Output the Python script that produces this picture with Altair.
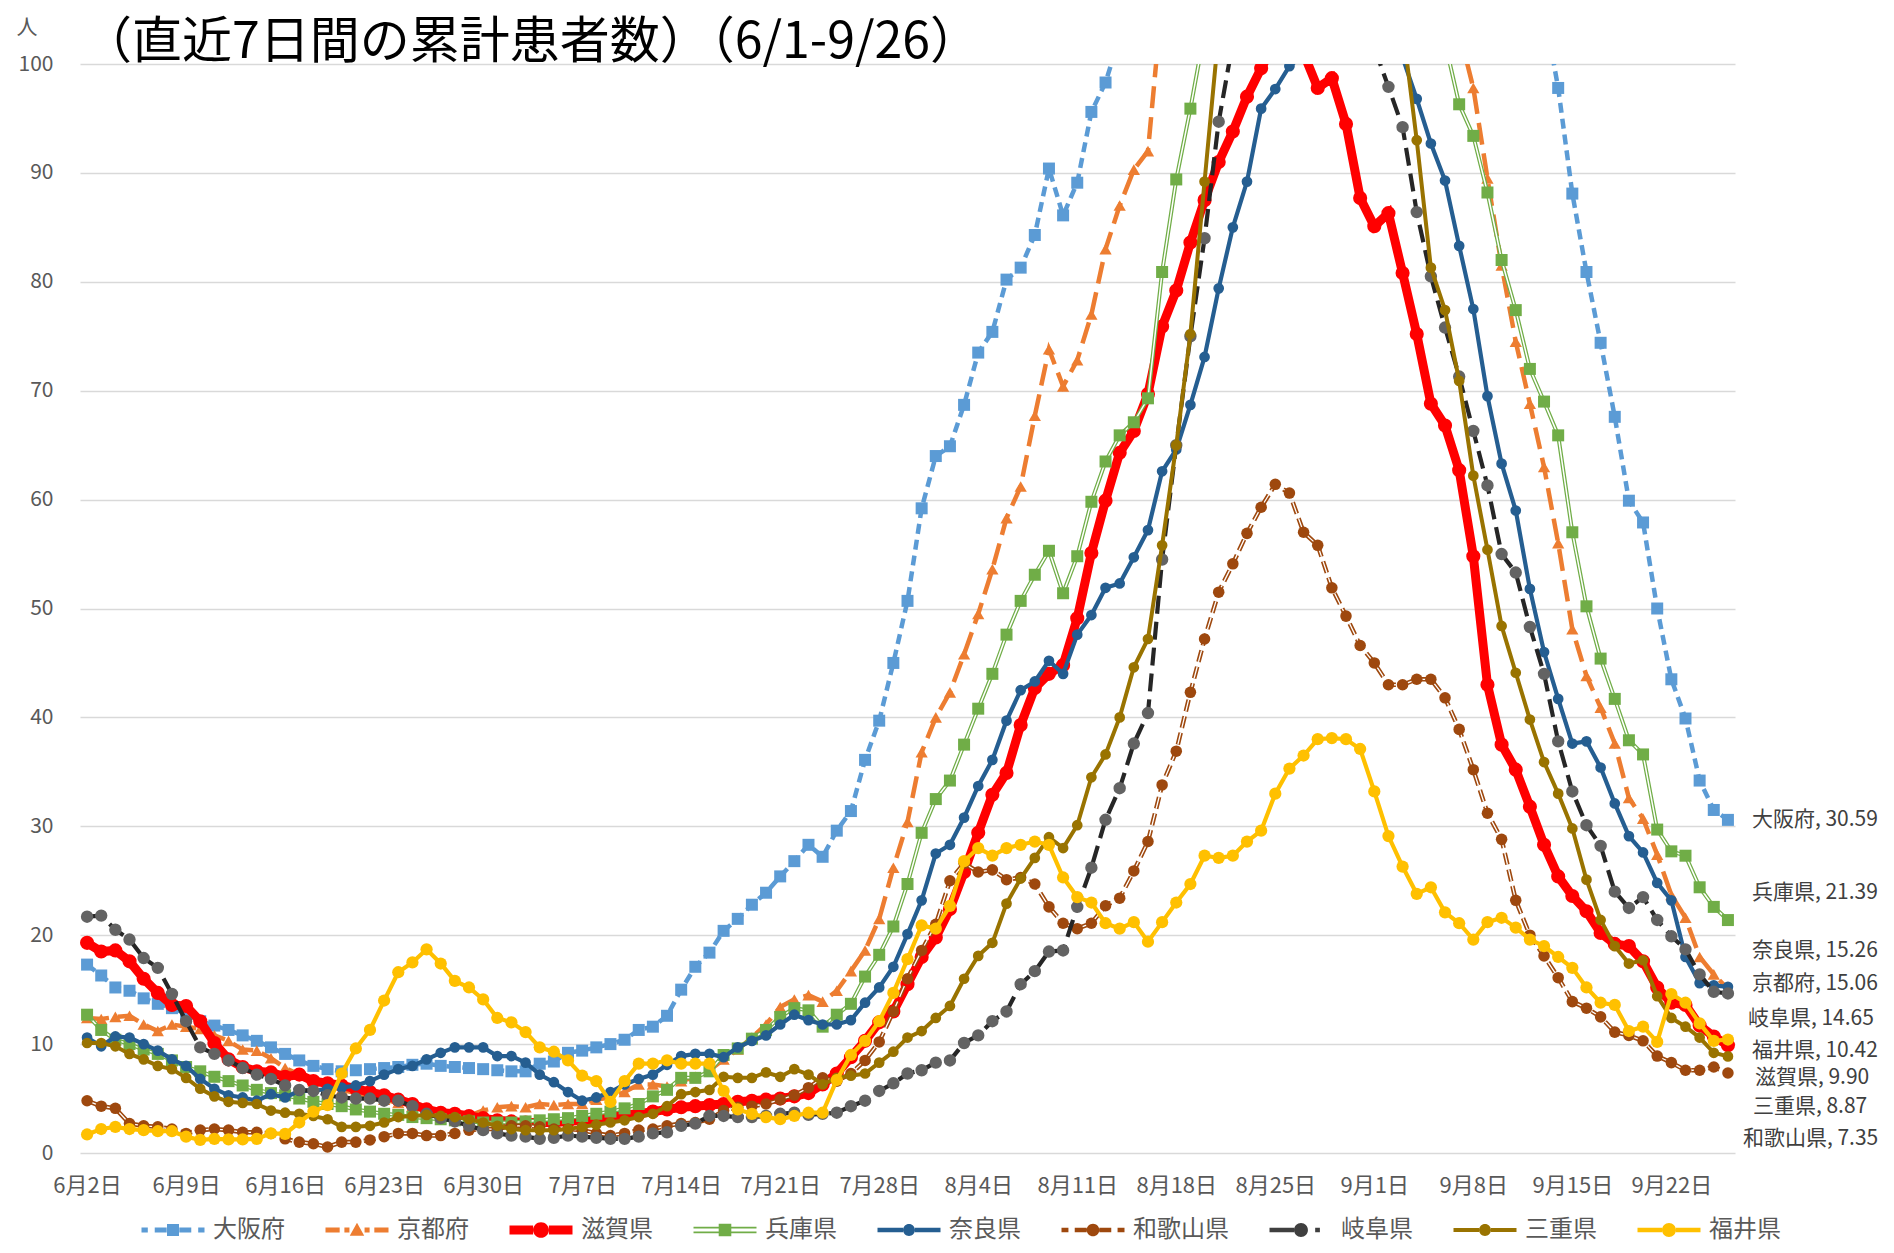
import altair as alt
import pandas as pd

FONT = "Noto Sans CJK JP"

names = ["大阪府", "京都府", "滋賀県", "兵庫県", "奈良県", "和歌山県", "岐阜県", "三重県", "福井県"]

x_tick_labels = ["6月2日", "6月9日", "6月16日", "6月23日", "6月30日", "7月7日", "7月14日",
                 "7月21日", "7月28日", "8月4日", "8月11日", "8月18日", "8月25日", "9月1日",
                 "9月8日", "9月15日", "9月22日"]

osaka = [17.3, 16.3, 15.2, 14.9, 14.2, 13.7, 13.3, 12.8, 12.1, 11.7,
         11.3, 10.8, 10.3, 9.7, 9.1, 8.5, 8.0, 7.7, 7.5, 7.6,
         7.7, 7.8, 7.9, 8.1, 8.2, 8.0, 7.9, 7.8, 7.7, 7.6,
         7.5, 7.5, 8.2, 8.4, 9.2, 9.4, 9.7, 10.0, 10.4, 11.3,
         11.6, 12.6, 15.0, 17.1, 18.4, 20.4, 21.5, 22.8, 23.9, 25.4,
         26.8, 28.3, 27.2, 29.6, 31.4, 36.1, 39.7, 45.0, 50.7, 59.2,
         64.0, 64.9, 68.7, 73.5, 75.4, 80.2, 81.3, 84.3, 90.4, 86.1,
         89.1, 95.6, 98.3, 102.5, 106, 110, 114, 119, 124, 129,
         134, 139, 143, 147, 150, 153, 155, 157, 158, 159,
         159, 158, 157, 155, 152, 149, 145, 141, 136, 130,
         124, 118, 112, 105, 97.8, 88.1, 80.9, 74.4, 67.6, 59.9,
         57.9, 50.0, 43.5, 39.9, 34.2, 31.5, 30.59]

kyoto = [12.4, 12.3, 12.5, 12.6, 11.8, 11.2, 11.8, 11.6, 11.4, 10.8,
         10.3, 9.5, 9.4, 8.7, 7.8, 7.2, 6.6, 6.2, 5.8, 5.5,
         5.2, 4.9, 4.6, 4.3, 4.0, 3.8, 3.6, 3.4, 3.9, 4.2,
         4.3, 4.2, 4.5, 4.4, 4.5, 4.5, 4.9, 5.1, 5.6, 6.3,
         6.3, 6.1, 6.6, 7.0, 7.6, 8.6, 9.5, 10.6, 11.8, 13.4,
         14.1, 14.5, 13.9, 14.9, 16.7, 18.6, 21.5, 26.2, 30.4, 36.8,
         40.0, 42.3, 45.8, 49.5, 53.6, 58.3, 61.2, 67.7, 73.8, 70.4,
         72.8, 77.0, 83.0, 87.0, 90.3, 92.0, 106, 112, 118, 123,
         127, 131, 134, 136, 137, 137, 136, 135, 133, 131,
         128, 125, 122, 119, 115, 111, 107, 103, 97.8, 89.5,
         81.5, 74.5, 68.8, 63.0, 56.0, 48.1, 43.8, 40.9, 37.6, 32.6,
         30.7, 27.4, 23.7, 21.6, 18.0, 16.4, 15.06]

shiga = [19.3, 18.5, 18.6, 17.6, 16.0, 14.7, 13.6, 13.5, 12.1, 10.1,
         8.6, 7.9, 7.5, 7.4, 7.0, 7.2, 6.6, 6.4, 6.2, 5.9,
         5.6, 5.3, 4.9, 4.5, 4.0, 3.7, 3.6, 3.4, 3.2, 3.0,
         2.9, 2.8, 2.8, 2.8, 2.9, 3.0, 3.1, 3.3, 3.5, 3.6,
         3.8, 4.0, 4.2, 4.3, 4.4, 4.5, 4.7, 4.8, 4.9, 5.0,
         5.2, 5.5, 6.3, 7.3, 8.8, 10.3, 12.0, 13.0, 15.5, 18.0,
         19.8, 22.4, 25.8, 29.4, 32.9, 34.9, 39.3, 42.7, 44.0, 44.8,
         49.1, 55.1, 59.9, 64.3, 66.3, 69.7, 75.9, 79.2, 83.6, 87.5,
         91.0, 93.8, 97.0, 99.6, 102, 103, 101, 97.8, 98.7, 94.5,
         87.7, 85.1, 86.3, 80.8, 75.2, 68.8, 66.8, 62.7, 54.8, 43.0,
         37.5, 35.2, 31.8, 28.3, 25.4, 23.6, 22.2, 20.2, 19.2, 19.0,
         17.6, 15.2, 13.8, 13.6, 11.7, 10.7, 9.90]

hyogo = [12.7, 11.3, 10.4, 10.0, 9.5, 9.1, 8.5, 7.9, 7.5, 7.0,
         6.6, 6.2, 5.8, 5.5, 5.3, 5.0, 4.7, 4.5, 4.3, 4.0,
         3.8, 3.6, 3.5, 3.3, 3.2, 3.1, 3.0, 2.9, 2.8, 2.8,
         2.8, 2.9, 3.0, 3.1, 3.2, 3.4, 3.6, 3.8, 4.1, 4.5,
         5.2, 5.8, 6.9, 6.9, 7.5, 9.0, 9.6, 10.5, 11.3, 12.5,
         13.3, 13.1, 11.6, 12.7, 13.7, 16.2, 18.2, 20.8, 24.7, 29.4,
         32.5, 34.2, 37.5, 40.8, 44.0, 47.6, 50.7, 53.1, 55.3, 51.4,
         54.8, 59.8, 63.5, 65.9, 67.1, 69.3, 80.9, 89.4, 95.9, 103,
         110, 116, 121, 125, 128, 130, 131, 131, 130, 128,
         125, 122, 118, 114, 110, 106, 102, 96.3, 93.4, 88.2,
         82.0, 77.4, 72.0, 69.0, 65.9, 57.0, 50.2, 45.4, 41.7, 37.9,
         36.6, 29.7, 27.7, 27.3, 24.4, 22.6, 21.39]

nara = [10.6, 9.8, 10.7, 10.6, 10.0, 9.4, 8.6, 8.0, 6.8, 5.9,
        5.3, 5.1, 4.8, 5.4, 5.1, 5.7, 5.7, 5.9, 6.0, 6.2,
        6.6, 7.2, 7.7, 8.0, 8.6, 9.2, 9.7, 9.7, 9.7, 8.9,
        8.9, 8.3, 7.2, 6.5, 5.6, 4.8, 5.1, 5.6, 6.3, 6.8,
        7.2, 8.1, 8.9, 9.1, 9.1, 8.8, 9.7, 10.3, 10.8, 11.8,
        12.7, 12.2, 11.8, 11.8, 12.2, 13.8, 15.2, 17.1, 20.1, 23.2,
        27.5, 28.3, 30.8, 33.7, 36.1, 39.7, 42.5, 43.3, 45.2, 44.0,
        47.6, 49.4, 51.9, 52.3, 54.7, 57.2, 62.6, 64.6, 68.7, 73.1,
        79.4, 85.0, 89.2, 95.9, 97.7, 99.8, 100.8, 104, 106, 107,
        107, 106, 104, 100.6, 96.8, 92.7, 89.3, 83.3, 77.5, 69.5,
        63.3, 59.0, 51.8, 46.0, 41.7, 37.6, 37.8, 35.4, 32.1, 29.1,
        27.6, 24.8, 23.2, 18.0, 15.6, 15.4, 15.26]

wakayama = [4.8, 4.3, 4.1, 2.7, 2.5, 2.4, 2.2, 1.8, 2.1, 2.2,
            2.1, 1.9, 1.9, 1.8, 1.3, 1.0, 0.85, 0.55, 1.0, 1.0,
            1.2, 1.5, 1.8, 1.8, 1.6, 1.6, 1.8, 2.1, 2.2, 2.2,
            2.5, 2.5, 2.4, 2.2, 2.2, 2.1, 1.8, 1.6, 1.8, 2.1,
            2.2, 2.5, 2.7, 2.8, 3.1, 3.9, 4.2, 4.3, 4.5, 4.9,
            5.3, 6.0, 6.9, 6.6, 7.3, 8.5, 10.2, 13.0, 16.0, 18.6,
            21.0, 25.0, 26.6, 25.8, 26.0, 25.1, 25.3, 24.7, 22.6, 21.1,
            20.6, 21.1, 22.7, 23.4, 25.9, 28.6, 33.8, 36.9, 42.3, 47.2,
            51.5, 54.1, 56.9, 59.3, 61.4, 60.6, 57.0, 55.8, 51.9, 49.3,
            46.6, 45.0, 43.0, 43.0, 43.5, 43.5, 41.8, 38.9, 35.2, 31.2,
            28.8, 23.2, 20.0, 18.1, 16.1, 13.9, 13.3, 12.5, 11.1, 10.8,
            10.3, 8.9, 8.3, 7.6, 7.6, 7.9, 7.35]

gifu = [21.7, 21.8, 20.5, 19.6, 17.9, 17.0, 14.6, 12.1, 9.7, 9.1,
        8.5, 7.8, 7.2, 6.8, 6.2, 5.8, 5.7, 5.3, 5.1, 5.0,
        5.0, 4.8, 4.8, 4.3, 3.6, 3.2, 2.9, 2.5, 2.1, 1.8,
        1.6, 1.5, 1.3, 1.4, 1.6, 1.5, 1.4, 1.3, 1.3, 1.5,
        1.8, 1.9, 2.5, 2.7, 3.4, 3.4, 3.3, 3.3, 3.4, 3.6,
        3.7, 3.5, 3.6, 3.7, 4.3, 4.8, 5.7, 6.4, 7.3, 7.6,
        8.3, 8.5, 10.1, 10.8, 12.1, 13.0, 15.5, 16.7, 18.5, 18.6,
        22.6, 26.2, 30.6, 33.5, 37.6, 40.4, 54.5, 65.0, 75.0, 84.0,
        94.7, 102, 108, 113, 116, 118, 119, 118, 116, 112,
        107, 101.5, 97.9, 94.2, 86.4, 80.5, 75.8, 71.3, 66.3, 61.3,
        55.0, 53.3, 48.3, 44.0, 37.8, 33.2, 30.1, 28.2, 24.0, 22.5,
        23.5, 21.4, 19.9, 18.7, 16.4, 14.8, 14.65]

mie = [10.1, 10.1, 9.8, 9.1, 8.6, 8.0, 7.7, 6.9, 5.9, 5.2,
       4.7, 4.6, 4.5, 3.9, 3.7, 3.6, 3.4, 3.1, 2.4, 2.4,
       2.5, 2.8, 3.3, 3.4, 3.5, 3.4, 3.3, 3.1, 2.8, 2.5,
       2.2, 2.1, 2.1, 2.1, 2.2, 2.4, 2.6, 2.8, 3.0, 3.3,
       3.6, 4.3, 5.4, 5.6, 5.8, 7.0, 6.9, 6.9, 7.4, 7.0,
       7.7, 7.2, 6.3, 6.9, 7.1, 7.3, 8.3, 9.3, 10.6, 11.2,
       12.4, 13.5, 16.0, 18.1, 19.3, 22.9, 25.2, 27.1, 29.0, 28.0,
       30.1, 34.5, 36.6, 40.0, 44.6, 47.2, 55.8, 65.0, 75.2, 89.2,
       103, 115, 124, 131, 136, 139, 140, 139, 136, 131,
       125, 118, 111, 103.5, 93.0, 81.3, 77.4, 70.9, 62.2, 55.4,
       48.4, 44.1, 39.8, 35.9, 33.0, 29.8, 25.1, 21.4, 19.0, 17.4,
       17.7, 14.4, 12.4, 11.6, 10.6, 9.2, 8.87]

fukui = [1.7, 2.2, 2.4, 2.2, 2.1, 2.0, 2.0, 1.5, 1.2, 1.3,
         1.25, 1.25, 1.3, 1.8, 1.75, 2.8, 3.8, 4.4, 7.3, 9.6,
         11.3, 14.0, 16.6, 17.5, 18.7, 17.4, 15.8, 15.2, 14.1, 12.4,
         12.0, 11.1, 9.7, 9.3, 8.5, 7.1, 6.6, 4.7, 6.6, 8.2,
         8.2, 8.5, 8.2, 8.2, 8.2, 5.7, 4.0, 3.6, 3.3, 3.1,
         3.4, 3.7, 3.7, 6.7, 9.0, 10.3, 12.1, 14.7, 17.8, 20.9,
         20.6, 22.7, 26.8, 28.0, 27.3, 28.0, 28.3, 28.6, 28.3, 25.3,
         23.5, 23.0, 21.1, 20.6, 21.2, 19.4, 21.2, 23.0, 24.7, 27.3,
         27.1, 27.3, 28.6, 29.6, 33.0, 35.3, 36.5, 38.0, 38.1, 38.0,
         37.1, 33.2, 29.1, 26.3, 23.8, 24.4, 22.1, 21.1, 19.6, 21.2,
         21.6, 20.7, 19.6, 19.0, 18.0, 17.0, 15.2, 13.8, 13.6, 11.2,
         11.6, 10.2, 14.6, 13.8, 11.9, 10.3, 10.42]

series_values = [osaka, kyoto, shiga, hyogo, nara, wakayama, gifu, mie, fukui]

rows = []
for name, vals in zip(names, series_values):
    for d, v in enumerate(vals):
        rows.append({"day": d, "series": name, "value": v})
df = pd.DataFrame(rows)
last_day = len(osaka) - 1

# ---------------- styles ----------------
style = {
    "大阪府": dict(color="#5B9BD5", width=4.5, dash=[10, 6], shape="square", size=144),
    "京都府": dict(color="#ED7D31", width=4.5, dash=[22, 9], shape="triangle-up", size=150),
    "滋賀県": dict(color="#FF0000", width=9, shape="circle", size=200),
    "兵庫県": dict(color="#70AD47", width=4, inner="white", shape="square", size=144),
    "奈良県": dict(color="#255E91", width=4.2, shape="circle", size=115),
    "和歌山県": dict(color="#9E480E", width=4.5, dash=[12, 5], inner_dash="white", shape="circle", size=133),
    "岐阜県": dict(color="#262626", mcolor="#636363", width=4.2, dash=[18, 8], shape="circle", size=154),
    "三重県": dict(color="#997300", width=4, shape="circle", size=115),
    "福井県": dict(color="#FFC000", width=4.2, shape="circle", size=150),
}
label_offsets = {  # (dx, dy) in px for the end labels
    "大阪府": (24, 0), "京都府": (24, -5), "滋賀県": (27, 33), "兵庫県": (24, -27),
    "奈良県": (24, -36), "和歌山県": (15, 66), "岐阜県": (20, 26), "三重県": (25, 51),
    "福井県": (24, 11),
}

x_label_expr = "[" + ",".join(f"'{t}'" for t in x_tick_labels) + "][round(datum.value / 7)]"

x_enc = alt.X(
    "day:Q",
    scale=alt.Scale(domain=[-0.5, last_day + 0.5], nice=False, zero=False),
    axis=alt.Axis(values=list(range(0, 113, 7)), labelExpr=x_label_expr, grid=False,
                  domain=False, ticks=False, labelColor="#595959", labelFontSize=22,
                  labelFont=FONT, labelPadding=22, labelOverlap=False, labelFlush=False),
    title=None,
)
y_enc = alt.Y(
    "value:Q",
    scale=alt.Scale(domain=[0, 100], nice=False, zero=True),
    axis=alt.Axis(values=list(range(0, 101, 10)), grid=True, gridColor="#D9D9D9",
                  gridWidth=1.5, domain=False, ticks=False, labelColor="#595959",
                  labelFontSize=21, labelFont=FONT, labelPadding=27,
                  titleAngle=0, titleX=-64, titleY=-37, titleAlign="left",
                  titleBaseline="middle", titleColor="#595959", titleFontSize=21,
                  titleFont=FONT, titleFontWeight="normal"),
    title="人",
)

layers = []
for name in names:
    st = style[name]
    base = alt.Chart(df).transform_filter(alt.datum.series == name).encode(x=x_enc, y=y_enc)
    line_kw = dict(color=st["color"], strokeWidth=st["width"], clip=True)
    if "dash" in st:
        line_kw["strokeDash"] = st["dash"]
    layers.append(base.mark_line(**line_kw))
    if "inner" in st:
        layers.append(base.mark_line(color=st["inner"], strokeWidth=1.5, clip=True))
    if "inner_dash" in st:
        layers.append(base.mark_line(color=st["inner_dash"], strokeWidth=1.3,
                                     strokeDash=st["dash"], clip=True))
    mcol = st.get("mcolor", st["color"])
    layers.append(base.mark_point(filled=True, shape=st["shape"], size=st["size"],
                                  color=mcol, opacity=1, strokeWidth=1, clip=True))

# end-of-line data labels
for name in names:
    dx, dy = label_offsets[name]
    lab = (alt.Chart(df)
           .transform_filter((alt.datum.series == name) & (alt.datum.day == last_day))
           .transform_calculate(label="datum.series + ', ' + format(datum.value, '.2f')")
           .mark_text(align="left", baseline="middle", dx=dx, dy=dy, fontSize=21,
                      font=FONT, color="#404040")
           .encode(x=x_enc, y=y_enc, text="label:N"))
    layers.append(lab)


# ---------------- legend (custom symbols: line + marker) ----------------
K = 2.625  # path units -> symbol box (box is sqrt(symbolSize) = 24px, symbol drawn 63px wide)


def bar(x0, x1, t, yc=0.0):
    return (f"M{x0 * K:.3f},{(yc - t) * K:.3f}H{x1 * K:.3f}"
            f"V{(yc + t) * K:.3f}H{x0 * K:.3f}Z")


def circ(r):
    r = r * K
    return f"M{-r:.3f},0A{r:.3f},{r:.3f} 0 1,1 {r:.3f},0A{r:.3f},{r:.3f} 0 1,1 {-r:.3f},0Z"


def sq(a):
    a = a * K
    return f"M{-a:.3f},{-a:.3f}H{a:.3f}V{a:.3f}H{-a:.3f}Z"


def tri(a):
    a = a * K
    return f"M0,{-a:.3f}L{a:.3f},{a * 0.8:.3f}H{-a:.3f}Z"


def mirror(segs):
    return segs + [(-b, -a) for a, b in segs]


leg_paths = {
    "大阪府": " ".join(bar(a, b, 0.08) for a, b in mirror([(-1, -0.8), (-0.58, -0.2)])) + " " + sq(0.19),
    "京都府": " ".join(bar(a, b, 0.08) for a, b in mirror([(-1, -0.55), (-0.4, -0.24)])) + " " + tri(0.23),
    "滋賀県": " ".join(bar(a, b, 0.14) for a, b in mirror([(-1, -0.25)])) + " " + circ(0.25),
    "兵庫県": " ".join(bar(a, b, 0.028, yc) for a, b in mirror([(-1, -0.2)]) for yc in (-0.075, 0.075)) + " " + sq(0.2),
    "奈良県": " ".join(bar(a, b, 0.07) for a, b in mirror([(-1, -0.19)])) + " " + circ(0.19),
    "和歌山県": " ".join(bar(a, b, 0.075) for a, b in mirror([(-1, -0.78), (-0.58, -0.2)])) + " " + circ(0.2),
    "岐阜県": bar(-1, -0.22, 0.07) + " " + circ(0.22) + " " + bar(0.45, 0.6, 0.07),
    "三重県": " ".join(bar(a, b, 0.065) for a, b in mirror([(-1, -0.19)])) + " " + circ(0.19),
    "福井県": " ".join(bar(a, b, 0.07) for a, b in mirror([(-1, -0.22)])) + " " + circ(0.22),
}
leg_colors = [style[n]["color"] if n != "岐阜県" else "#3F3F3F" for n in names]

legend_cfg = alt.Legend(orient="none", legendX=81, legendY=1154, direction="horizontal",
                        columns=9, symbolSize=576, symbolStrokeWidth=0, symbolOpacity=1,
                        labelFontSize=24, labelFont=FONT, labelColor="#595959",
                        labelOffset=28, columnPadding=40, padding=0)

legend_layer = (alt.Chart(df)
                .transform_filter("datum.day < 0")
                .mark_point(filled=True, opacity=1)
                .encode(x=x_enc, y=y_enc,
                        color=alt.Color("series:N", scale=alt.Scale(domain=names, range=leg_colors),
                                        legend=legend_cfg, title=None),
                        shape=alt.Shape("series:N", scale=alt.Scale(domain=names,
                                                                   range=[leg_paths[n] for n in names]),
                                        legend=legend_cfg, title=None)))
layers.append(legend_layer)

chart = (alt.layer(*layers)
         .properties(width=1655, height=1089, background="white",
                     padding={"left": 8, "top": 8, "right": 0, "bottom": 6},
                     title=alt.TitleParams(text="（直近7日間の累計患者数）（6/1-9/26）",
                                           anchor="start", frame="group", fontSize=50,
                                           font=FONT, fontWeight="normal", color="#000000",
                                           dx=2, offset=-52))
         .configure_view(stroke=None))

chart.save("out.html", embed_options={"renderer": "svg", "actions": False})
